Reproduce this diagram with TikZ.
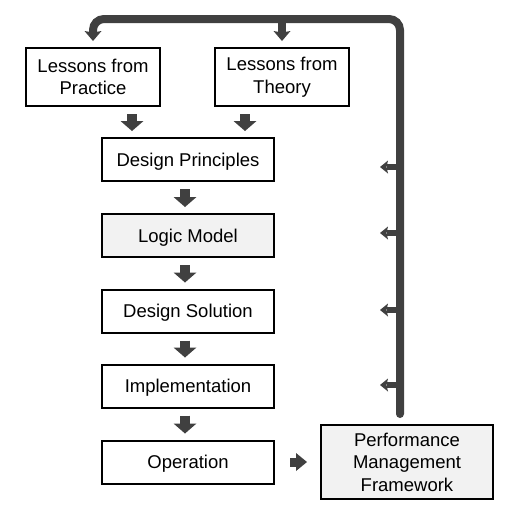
\documentclass[tikz,border=0pt]{standalone}
\usepackage{fontspec}
\setmainfont{Liberation Sans}
\usetikzlibrary{arrows.meta}
\definecolor{arr}{HTML}{404040}
\definecolor{boxfill}{HTML}{F2F2F2}
\begin{document}
\begin{tikzpicture}[x=1pt,y=-1pt,
 box/.style={draw=black,line width=2pt,minimum width=172pt,minimum height=43pt,inner sep=2pt,align=center,font=\fontsize{18.5}{22.5}\selectfont},
 topbox/.style={box,minimum width=134pt,minimum height=58pt},
 graybox/.style={box,fill=boxfill},
 onebox/.style={box,text height=15pt,text depth=2pt},
 blockarrow/.style={draw=arr,line width=10pt,-{Triangle[width=23pt,length=10pt,line width=0pt]},shorten <=7pt,shorten >=6pt},
 smallblock/.style={draw=arr,line width=9pt,-{Triangle[width=18pt,length=11pt,line width=0pt]},shorten <=15pt,shorten >=13pt},
 looparrow/.style={draw=arr,line width=8pt,line cap=round,rounded corners=11pt,-{Stealth[width=17pt,length=10pt,inset=1.5pt,line width=0pt]},shorten >=6pt},
 sidearrow/.style={draw=arr,line width=6pt,-{Stealth[width=13pt,length=8pt,inset=1.5pt,line width=0pt]}}
]
\useasboundingbox (0,0) rectangle (513,515);
\fill[white] (0,0) rectangle (513,515);

\node[topbox] (prac) at (93,77) {Lessons from\\Practice};
\node[topbox] (theo) at (282,77) {Lessons from\\Theory};
\node[onebox] (dp) at (188,159.5) {Design Principles};
\node[onebox,fill=boxfill] (lm) at (188,235.5) {Logic Model};
\node[onebox] (ds) at (188,311) {Design Solution};
\node[onebox] (impl) at (188,386) {Implementation};
\node[onebox] (op) at (188,462) {Operation};
\node[graybox,minimum height=74pt] (pmf) at (407,462) {Performance\\Management\\Framework};

% block arrows
\draw[blockarrow] ([xshift=39pt]prac.south) -- ([xshift=39pt]prac.south |- dp.north);
\draw[blockarrow] ([xshift=-37pt]theo.south) -- ([xshift=-37pt]theo.south |- dp.north);
\draw[blockarrow] ([xshift=-3pt]dp.south) -- ([xshift=-3pt]lm.north);
\draw[blockarrow] ([xshift=-3pt]lm.south) -- ([xshift=-3pt]ds.north);
\draw[blockarrow] ([xshift=-3pt]ds.south) -- ([xshift=-3pt]impl.north);
\draw[blockarrow] ([xshift=-3pt]impl.south) -- ([xshift=-3pt]op.north);
\draw[smallblock] (op.east) -- (pmf.west);

% feedback loop
\coordinate (loopbot) at (400,414);
\coordinate (looptop) at (400,19);
\draw[looparrow] (loopbot) -- (looptop) -- (prac.north |- looptop) -- (prac.north);
\draw[looparrow,line cap=butt] (theo.north |- looptop) -- (theo.north);

% side arrows
\foreach \n/\yy in {1/167,2/233,3/310,4/385}{
  \coordinate (s\n) at (400,\yy);
  \coordinate (t\n) at (380,\yy);
  \draw[sidearrow] (s\n) -- (t\n);
}
\end{tikzpicture}
\end{document}
